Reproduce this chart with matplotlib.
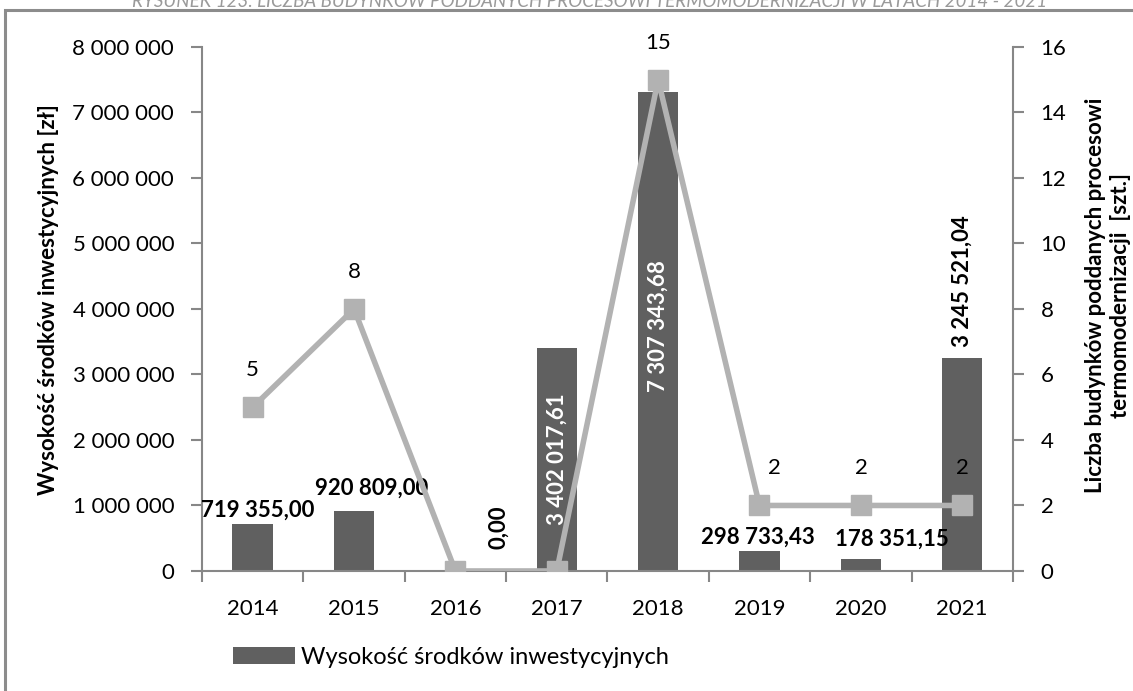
"""
Inwestycje w termomodernizacje budynkow w latach 2014-2021:
slupki - wysokosc srodkow [zl], linia - liczba budynkow [szt.].
"""

import matplotlib
matplotlib.use('Agg')
import matplotlib.pyplot as plt
from matplotlib.patches import Rectangle
from matplotlib.ticker import FuncFormatter

plt.rcParams['font.family'] = ['Lato', 'DejaVu Sans']

years = ['2014', '2015', '2016', '2017', '2018', '2019', '2020', '2021']
funds = [719355.00, 920809.00, 0.00, 3402017.61, 7307343.68,
         298733.43, 178351.15, 3245521.04]
buildings = [5, 8, 0, 0, 15, 2, 2, 2]

BAR_COLOR = '#606060'
LINE_COLOR = '#b2b2b2'
AXIS_COLOR = '#878787'


def pl_number(v, decimals=0):
    s = '{:,.{d}f}'.format(v, d=decimals)
    return s.replace(',', ' ').replace('.', ',')


fig = plt.figure(figsize=(11.33, 6.91), dpi=100)
ax = fig.add_axes([0.1783, 0.1737, 0.7157, 0.7583])
ax2 = ax.twinx()

x = list(range(len(years)))

# slupki
bars = ax.bar(x, funds, width=0.4, color=BAR_COLOR, zorder=2,
              label='Wysokość środków inwestycyjnych')
ax.set_ylim(0, 8000000)
ax.set_xlim(-0.5, len(years) - 0.5)

# linia na prawej osi
ax2.plot(x, buildings, color=LINE_COLOR, lw=4, marker='s', ms=14,
         mec=LINE_COLOR, mfc=LINE_COLOR, zorder=3,
         label='Liczba budynków')
ax2.set_ylim(0, 16)

# etykiety slupkow: (kierunek, miejsce, kolor, przesuniecie w px)
bar_label_style = [
    ('h', 'top', 'black', (5, 14)),
    ('h', 'top', 'black', (18, 22)),
    ('v', 'top', 'black', (43, 44)),
    ('v', 'mid', 'white', (0, 0)),
    ('v', 'mid', 'white', (0, 6)),
    ('h', 'top', 'black', (-2, 14)),
    ('h', 'top', 'black', (31, 20)),
    ('v', 'top', 'black', (0, 77)),
]
for xi, v, (orient, where, col, (dx, dy)) in zip(x, funds, bar_label_style):
    txt = pl_number(v, 2)
    rot = 90 if orient == 'v' else 0
    yv = v / 2 if where == 'mid' else v
    ax.annotate(txt, (xi, yv), xytext=(dx, dy), textcoords='offset pixels',
                ha='center', va='center', rotation=rot, color=col,
                fontsize=16, fontweight='bold', zorder=5)

# etykiety linii (zera nie sa podpisane)
line_label_dx = [0, 0, 0, 0, 0, 15, 1, 0]
for xi, v, dx in zip(x, buildings, line_label_dx):
    if v == 0:
        continue
    ax2.annotate(str(v), (xi, v), xytext=(dx, 37), textcoords='offset pixels',
                 ha='center', va='center', fontsize=16, zorder=5)

# osie
for a in (ax, ax2):
    for side in ('left', 'right', 'bottom', 'top'):
        a.spines[side].set_visible(False)
ax.spines['left'].set_visible(True)
ax.spines['bottom'].set_visible(True)
ax2.spines['right'].set_visible(True)
for sp in (ax.spines['left'], ax.spines['bottom'], ax2.spines['right']):
    sp.set_color(AXIS_COLOR)
    sp.set_linewidth(1.5)

ax.set_xticks(x)
ax.set_xticklabels(years)
ax.set_xticks([i - 0.5 for i in range(len(years) + 1)], minor=True)
ax.tick_params(axis='x', which='major', length=0, pad=20, labelsize=16)
ax.tick_params(axis='x', which='minor', length=8, width=1.5,
               color=AXIS_COLOR, direction='out')

ax.set_yticks(range(0, 8000001, 1000000))
ax.yaxis.set_major_formatter(FuncFormatter(lambda v, p: pl_number(v)))
ax.tick_params(axis='y', length=8, width=1.5, color=AXIS_COLOR,
               labelsize=16, pad=12)
ax2.set_yticks(range(0, 17, 2))
ax2.tick_params(axis='y', length=8, width=1.5, color=AXIS_COLOR,
                labelsize=16, pad=12)

# opisy osi
fig.text(49 / 1133, 1 - 300 / 691, 'Wysokość środków inwestycyjnych [zł]',
         rotation=90, ha='center', va='center', fontsize=16,
         fontweight='bold')
fig.text(1108 / 1133, 1 - 295 / 691,
         'Liczba budynków poddanych procesowi\ntermomodernizacji  [szt.]',
         rotation=90, ha='center', va='center', fontsize=16,
         fontweight='bold', linespacing=1.25, multialignment='center')

ax.set_zorder(ax2.get_zorder() - 1)
ax2.patch.set_visible(False)
ax.patch.set_visible(False)

# legenda (tylko slupki)
fig.legend(handles=[bars], loc='center left',
           bbox_to_anchor=(212 / 1133, 1 - 657 / 691), frameon=False,
           fontsize=17, handlelength=2.6, handleheight=0.7,
           handletextpad=0.25)

# ramka wykresu i uciety tytul u gory
fig.patches.append(Rectangle((5 / 1133, -0.05), 1.1, 0.05 + 1 - 10 / 691,
                             transform=fig.transFigure, fill=False,
                             edgecolor='#8c8c8c', lw=2.2))
fig.text(0.52, 1 - 1 / 691,
         'RYSUNEK 123. LICZBA BUDYNKÓW PODDANYCH PROCESOWI '
         'TERMOMODERNIZACJI W LATACH 2014 - 2021',
         ha='center', va='center', fontsize=13.5, style='italic',
         color='#9a9a9a')

fig.savefig('out.png', dpi=100)
